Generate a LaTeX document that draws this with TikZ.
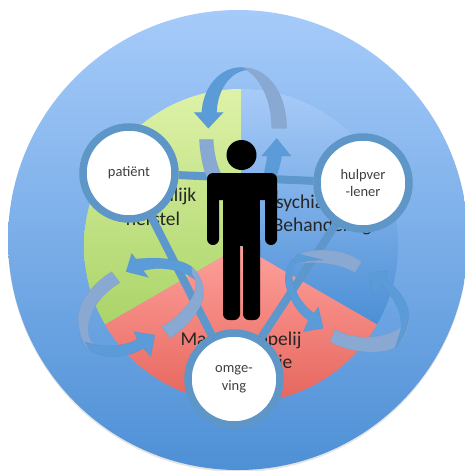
\documentclass[tikz,border=0pt]{standalone}
\usepackage{fontspec}
\setmainfont{Carlito}
\usetikzlibrary{calc}
\pgfdeclarelayer{back}
\pgfsetlayers{back,main}
\definecolor{ringblue}{HTML}{5F96C8}
\definecolor{linkblue}{HTML}{5E97CC}
\definecolor{arrowdark}{HTML}{5A9BD8}
\definecolor{arrowlight}{HTML}{89A8D2}
\definecolor{skyt}{HTML}{A6CBFA}
\definecolor{skyb}{HTML}{4E90D6}
\definecolor{greent}{HTML}{DEF2A8}
\definecolor{greenb}{HTML}{AAD468}
\definecolor{bluet}{HTML}{A8CBF8}
\definecolor{blueb}{HTML}{4C8FD6}
\definecolor{redt}{HTML}{FEA09B}
\definecolor{redb}{HTML}{E25E54}
\tikzset{
  actor/.style={circle,draw=ringblue,line width=7.5pt,fill=white,minimum size=92pt,inner sep=0pt,align=center,font=\fontsize{14.5}{17.5}\selectfont,text=black!75},
  sectorlabel/.style={align=center,font=\fontsize{19.5}{23.5}\selectfont,text=black!85},
  link/.style={draw=linkblue,line width=8pt},
  arrowd/.style={fill=arrowdark,draw=arrowdark!85!black,draw opacity=.2,line width=.5pt},
  arrowl/.style={fill=arrowlight,draw=arrowlight!85!black,draw opacity=.2,line width=.5pt},
  zoomA/.style={shift={(60,50)},x=.33333pt,y=-.33333pt},
  zoomB/.style={shift={(60,240)},x=.33333pt,y=-.33333pt}
}
\begin{document}
\begin{tikzpicture}[x=1pt,y=-1pt]
\useasboundingbox (0,0) rectangle (465,471);
% actors
\node[actor] (patient) at (129,173) {patiënt};
\node[actor] (helper) at (363,183) {hulpver\\-lener};
\node[actor] (env) at (234,379) {omge-\\ving};
\begin{pgfonlayer}{back}
% outer disc
\fill[black,opacity=.1] (238,242) circle (230);
\path[top color=skyt,bottom color=skyb] (238,240) circle (230);
% sectors
\coordinate (c) at (241,246);
\path[top color=greent,bottom color=greenb]
  (c) -- (241,89) arc[start angle=-90,end angle=-210,radius=157] -- cycle;
\path[top color=bluet,bottom color=blueb]
  (c) -- (241,89) arc[start angle=-90,end angle=30,radius=157] -- cycle;
\path[top color=redt,bottom color=redb]
  (c) -- ($(c)+(-136,78.5)$) arc[start angle=150,end angle=30,radius=157] -- cycle;
% sector texts
\node[sectorlabel] (t1) at (153,207) {Persoonlijk\\herstel};
\node[sectorlabel] (t2) at (322,215) {Psychiatrische\\Behandeling};
\node[sectorlabel] (t3) at (241,352) {Maatschappelij\\k Participatie};
\draw[link] (patient) -- (helper);
\draw[link] (patient) -- (env);
\draw[link] (helper) -- (env);
% top cycle
\begin{scope}[zoomA]
\fill[arrowl] (418,268) -- (460,268) .. controls (462,310) and (470,350) .. (490,385) -- (445,395) .. controls (428,355) and (420,310) .. (418,268) -- cycle;
\fill[arrowd] (608,395) .. controls (612,370) and (618,345) .. (622,318) -- (605,318) -- (650,265) -- (693,318) -- (665,318) .. controls (660,350) and (650,380) .. (640,400) -- cycle;
\fill[arrowl] (545,52) .. controls (625,52) and (680,130) .. (680,235) -- (635,235) .. controls (635,150) and (600,85) .. (560,60) -- cycle;
\fill[arrowd] (402,187) -- (425,187) .. controls (430,110) and (480,52) .. (545,52) -- (560,60) .. controls (510,65) and (472,120) .. (470,187) -- (490,187) -- (445,235) -- cycle;
\end{scope}
% lower cycles
\begin{scope}[zoomB]
\fill[arrowd] (215,40) -- (228,57) .. controls (290,50) and (360,55) .. (395,80) -- (410,125) .. controls (385,95) and (310,75) .. (250,92) -- (265,112) -- (198,95) -- cycle;
\fill[arrowl] (395,80) .. controls (425,105) and (440,150) .. (425,190) .. controls (410,225) and (370,270) .. (330,295) -- (305,260) .. controls (350,235) and (395,190) .. (405,150) .. controls (410,130) and (405,115) .. (395,100) -- cycle;
\fill[arrowl] (155,95) -- (180,128) .. controls (120,165) and (80,220) .. (85,280) .. controls (87,295) and (95,310) .. (110,318) -- (90,330) .. controls (70,315) and (58,285) .. (55,245) .. controls (50,195) and (90,135) .. (155,95) -- cycle;
\fill[arrowd] (75,305) .. controls (130,325) and (190,320) .. (232,298) -- (222,275) -- (285,285) -- (272,350) -- (250,325) .. controls (200,355) and (130,360) .. (90,330) -- cycle;
\fill[arrowl] (905,65) -- (885,98) .. controls (840,70) and (760,60) .. (695,75) -- (700,50) .. controls (770,15) and (860,30) .. (905,65) -- cycle;
\fill[arrowd] (715,42) .. controls (680,65) and (660,115) .. (690,170) .. controls (700,195) and (720,225) .. (745,240) -- (730,275) -- (790,265) -- (775,200) -- (762,220) .. controls (720,190) and (685,130) .. (700,75) .. controls (720,65) and (760,60) .. (790,60) -- cycle;
\fill[arrowl] (825,268) -- (810,305) .. controls (860,335) and (960,350) .. (1010,320) .. controls (1035,300) and (1050,260) .. (1045,230) -- (1022,262) .. controls (960,305) and (870,295) .. (825,268) -- cycle;
\fill[arrowd] (1022,270) .. controls (1030,220) and (1000,170) .. (965,135) -- (940,165) -- (925,100) -- (985,92) -- (975,115) .. controls (1020,150) and (1055,200) .. (1045,240) .. controls (1040,280) and (1020,310) .. (1005,325) -- cycle;
\end{scope}
% person
\fill[black] (241.5,155) circle (15);
\fill[black,rounded corners=6pt] (207,180) -- (207,245) -- (219,245) -- (219,185) -- (207,185) -- cycle;
\fill[black,rounded corners=6pt] (265,185) -- (265,245) -- (277,245) -- (277,185) -- cycle;
\fill[black,rounded corners=6pt] (207,200) -- (207,173) -- (277,173) -- (277,200) -- cycle;
\fill[black] (207,190) rectangle (219,200) (265,190) rectangle (277,200);
\fill[black] (223,190) rectangle (260,246);
\fill[black,rounded corners=6pt] (223,235) rectangle (240,320);
\fill[black,rounded corners=6pt] (243,235) rectangle (260,320);
\end{pgfonlayer}
\end{tikzpicture}
\end{document}
